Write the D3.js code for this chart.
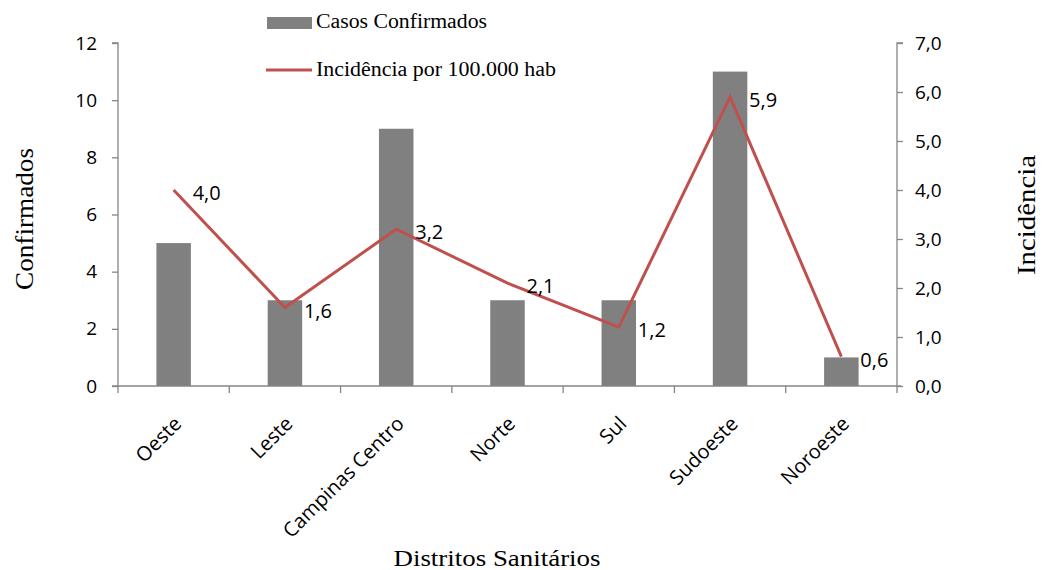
<!DOCTYPE html>
<html><head><meta charset="utf-8">
<script src="https://cdn.jsdelivr.net/npm/d3@7/dist/d3.min.js"></script>
<style>
body{margin:0;background:#fff;}
text{fill:#000;}
.num{font-family:"Open Sans",sans-serif;font-size:19px;}
.serif{font-family:"Liberation Serif",serif;}
</style></head><body>
<svg id="c" width="1044" height="570"></svg>
<script>
const categories = ["Oeste","Leste","Campinas Centro","Norte","Sul","Sudoeste","Noroeste"];
const confirmados = [5,3,9,3,3,11,1];
const incidencia = [4.0,1.6,3.2,2.1,1.2,5.9,0.6];
const leftTicks = [0,2,4,6,8,10,12];
const rightTicks = [0,1,2,3,4,5,6,7];

const svg = d3.select("#c");
const L = 118, R = 897, T = 43, B = 386;
const axisColor = "#868686";

const x = d3.scaleBand().domain(categories).range([L,R]).paddingInner(0).paddingOuter(0);
const yL = d3.scaleLinear().domain([0,12]).range([B,T]);
const yR = d3.scaleLinear().domain([0,7]).range([B,T]);
const fmt = d => d.toFixed(1).replace(".", ",");

// bars
const bw = x.bandwidth()*0.31;
svg.append("g").selectAll("rect").data(confirmados).join("rect")
  .attr("x",(d,i)=>x(categories[i])+x.bandwidth()/2-bw/2)
  .attr("y",d=>yL(d)).attr("width",bw).attr("height",d=>B-yL(d))
  .attr("fill","#808080");

// axes
const gl = svg.append("g").attr("transform",`translate(${L},0)`)
  .call(d3.axisLeft(yL).tickValues(leftTicks).tickSize(6).tickPadding(15).tickFormat(d3.format("d")));
const gr = svg.append("g").attr("transform",`translate(${R},0)`)
  .call(d3.axisRight(yR).tickValues(rightTicks).tickSize(6).tickPadding(12).tickFormat(fmt));
const gb = svg.append("g").attr("transform",`translate(0,${B})`)
  .call(d3.axisBottom(x).tickSize(0).tickFormat(""));
[gl,gr,gb].forEach(g=>{
  g.select(".domain").attr("stroke",axisColor).attr("stroke-width",1.3);
  g.selectAll(".tick line").attr("stroke",axisColor).attr("stroke-width",1.3);
  g.selectAll(".tick text").attr("class","num").attr("fill","#000");
});
gl.attr("font-size",null).attr("font-family",null);
gr.attr("font-size",null).attr("font-family",null);
gl.select(".domain").attr("d",`M-6,${T}H0V${B}`);
gr.select(".domain").attr("d",`M6,${T}H0V${B}`);
gb.select(".domain").attr("d",`M${L-6},0H${R+4}`);
// category boundary ticks
const bounds = categories.map(c=>x(c)).concat([R]);
gb.selectAll(".bt").data(bounds).join("line").attr("class","bt")
  .attr("x1",d=>d).attr("x2",d=>d).attr("y1",0).attr("y2",7)
  .attr("stroke",axisColor).attr("stroke-width",1.3);
// category labels
gb.selectAll(".cl").data(categories).join("text").attr("class","num cl")
  .attr("text-anchor","end").style("font-size","20px")
  .attr("transform",d=>`translate(${x(d)+x.bandwidth()/2+9},${39}) rotate(-45)`)
  .text(d=>d);

// line
const cx = c => x(c)+x.bandwidth()/2;
svg.append("path").datum(incidencia)
  .attr("d",d3.line().x((d,i)=>cx(categories[i])).y(d=>yR(d)))
  .attr("fill","none").attr("stroke","#C0504D").attr("stroke-width",3)
  .attr("stroke-linejoin","miter");
svg.append("g").selectAll("text").data(incidencia).join("text").attr("class","num")
  .style("font-size","20px")
  .attr("x",(d,i)=>cx(categories[i])+19).attr("y",d=>yR(d)+3)
  .attr("dy","0.35em").text(fmt);

// axis titles
svg.append("text").attr("class","serif").attr("font-size",25)
  .attr("text-anchor","middle").attr("transform","translate(33,219) rotate(-90)")
  .attr("textLength",142).attr("lengthAdjust","spacingAndGlyphs").text("Confirmados");
svg.append("text").attr("class","serif").attr("font-size",25)
  .attr("text-anchor","middle").attr("transform","translate(1035,215) rotate(-90)")
  .attr("textLength",120).attr("lengthAdjust","spacingAndGlyphs").text("Incidência");
svg.append("text").attr("class","serif").attr("font-size",24)
  .attr("text-anchor","middle").attr("x",497).attr("y",566)
  .attr("textLength",207).attr("lengthAdjust","spacingAndGlyphs").text("Distritos Sanitários");

// legend
svg.append("rect").attr("x",267).attr("y",17).attr("width",45).attr("height",12).attr("fill","#808080");
svg.append("text").attr("class","serif").attr("font-size",20).attr("x",316).attr("y",28)
  .attr("textLength",171).attr("lengthAdjust","spacingAndGlyphs").text("Casos Confirmados");
svg.append("line").attr("x1",266).attr("x2",312).attr("y1",70).attr("y2",70).attr("stroke","#C0504D").attr("stroke-width",3);
svg.append("text").attr("class","serif").attr("font-size",20).attr("x",316).attr("y",76)
  .attr("textLength",240).attr("lengthAdjust","spacingAndGlyphs").text("Incidência por 100.000 hab");
</script></body></html>
